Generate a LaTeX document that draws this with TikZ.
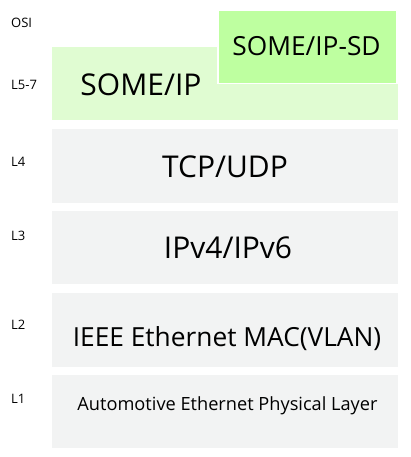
\documentclass[tikz,border=0pt]{standalone}
\usepackage{fontspec}
\setmainfont{Open Sans}
\definecolor{layergray}{RGB}{242,243,243}
\definecolor{somegreen}{RGB}{224,252,210}
\definecolor{sdgreen}{RGB}{190,255,160}
\tikzset{
	layer/.style = {fill=layergray, anchor=north west, minimum width=346pt, minimum height=74pt, inner sep=0pt},
	osi/.style = {anchor=base west, inner sep=0pt, font=\fontsize{13}{14}\selectfont},
	bigtxt/.style = {anchor=base, inner sep=0pt, font=\fontsize{30}{32}\selectfont},
	midtxt/.style = {anchor=base, inner sep=0pt, font=\fontsize{26.3}{28}\selectfont},
	smalltxt/.style = {anchor=base, inner sep=0pt, font=\fontsize{18.2}{20}\selectfont}
}

\begin{document}
\begin{tikzpicture}[x=1pt, y=-1pt]
	\useasboundingbox (0,0) rectangle (410,457);

		% layer boxes
		\node [layer, fill=somegreen, minimum height=73pt] (some) at (52,47) {};
		\node [layer] (tcp) at (52,129) {};
		\node [layer, minimum height=73pt] (ip) at (52,211) {};
		\node [layer] (mac) at (52,293) {};
		\node [layer, minimum height=73pt] (phy) at (52,375) {};
		\node [layer, fill=sdgreen, draw=white, line width=1.5pt, minimum width=179pt, minimum height=73pt] (sd) at (217,10) {};

		% layer names
		\node [bigtxt] (sometxt) at (141,96) {SOME/IP};
		\node [midtxt] (sdtxt) at (306.5,56) {SOME/IP-SD};
		\node [bigtxt] (tcptxt) at (225,177) {TCP/UDP};
		\node [bigtxt] (iptxt) at (228,258) {IPv4/IPv6};
		\node [midtxt] (mactxt) at (227,346) {IEEE Ethernet MAC(VLAN)};
		\node [smalltxt] (phytxt) at (227.5,410.5) {Automotive Ethernet Physical Layer};

		% OSI levels
		\node [osi] (osi) at (11,28) {OSI};
		\node [osi] (l57) at (11,90) {L5-7};
		\node [osi] (l4) at (11,167) {L4};
		\node [osi] (l3) at (11,240) {L3};
		\node [osi] (l2) at (11,329) {L2};
		\node [osi] (l1) at (11,403) {L1};

	\end{tikzpicture}
\end{document}
